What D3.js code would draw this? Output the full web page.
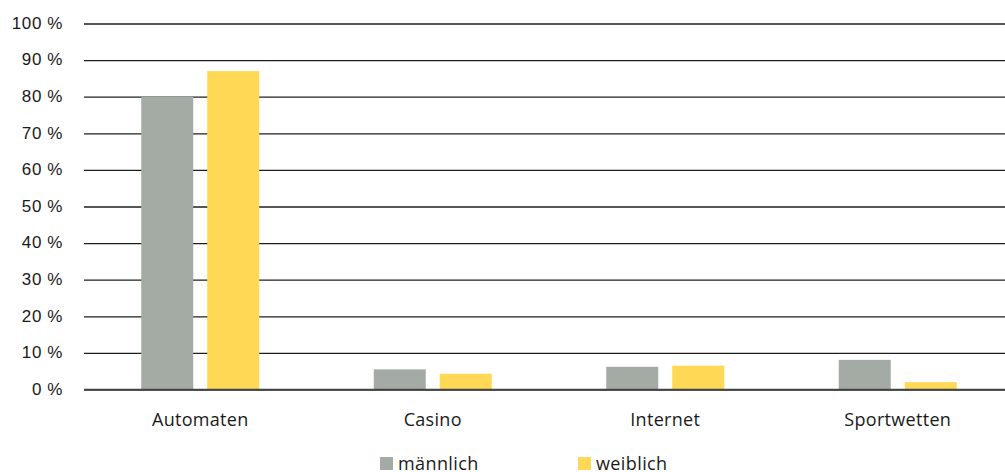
<!DOCTYPE html>
<html>
<head>
<meta charset="utf-8">
<script src="https://cdn.jsdelivr.net/npm/d3@7"></script>
<style>
  html, body { margin: 0; padding: 0; background: #fff; }
  svg { display: block; font-family: "Open Sans", sans-serif; }
  .tick text, .cat text, .legend text { fill: #1a1a1a; }
</style>
</head>
<body>
<svg id="chart" width="1005" height="472"></svg>
<script>
// Gambling form by gender (share in percent)
const categories = ["Automaten", "Casino", "Internet", "Sportwetten"];
const series = ["männlich", "weiblich"];
const maleValues = [80, 5.5, 6.2, 8.1];
const femaleValues = [87, 4.3, 6.5, 2.0];
const yTicks = [0, 10, 20, 30, 40, 50, 60, 70, 80, 90, 100];
const colors = ["#a4aba5", "#ffd856"];

const svg = d3.select("#chart");
const margin = { left: 84, right: -9, top: 23.5, bottom: 82.5 };
const W = 1005, H = 472;

const x = d3.scaleBand()
  .domain(categories)
  .range([margin.left, W - margin.right])
  .paddingInner(0).paddingOuter(0);

const y = d3.scaleLinear()
  .domain([0, 100])
  .range([H - margin.bottom, margin.top]);

const barW = 52, barGap = 14;
const xSub = d3.scaleOrdinal().domain(series)
  .range([-(barW + barGap / 2), barGap / 2]);

// gridlines + tick labels
const yAxis = d3.axisLeft(y)
  .tickValues(yTicks)
  .tickSize(-(W - margin.left))
  .tickPadding(21)
  .tickFormat(d => d + " %");

const gAxis = svg.append("g")
  .attr("transform", `translate(${margin.left},0)`)
  .call(yAxis);
gAxis.select(".domain").remove();
gAxis.selectAll(".tick line").attr("stroke", "#1e1e1e").attr("stroke-width", 1.3);
gAxis.selectAll(".tick text")
  .attr("font-size", 17)
  .attr("letter-spacing", "0.6px")
  .attr("dy", "0.28em");

// bars
const rows = categories.map((c, i) => ({ cat: c, vals: [maleValues[i], femaleValues[i]] }));
const groups = svg.append("g").selectAll("g")
  .data(rows).join("g")
  .attr("transform", d => `translate(${x(d.cat) + x.bandwidth() / 2},0)`);

groups.selectAll("rect")
  .data(d => d.vals.map((v, j) => ({ s: series[j], v, j })))
  .join("rect")
  .attr("x", d => xSub(d.s))
  .attr("width", barW)
  .attr("y", d => y(d.v))
  .attr("height", d => y(0) - y(d.v))
  .attr("fill", d => colors[d.j]);

// redraw baseline on top of bars
svg.append("line")
  .attr("x1", margin.left).attr("x2", W)
  .attr("y1", y(0)).attr("y2", y(0))
  .attr("stroke", "#444").attr("stroke-width", 1.6);

// category labels
svg.append("g").attr("class", "cat")
  .selectAll("text").data(categories).join("text")
  .attr("x", d => x(d) + x.bandwidth() / 2)
  .attr("y", y(0) + 36)
  .attr("text-anchor", "middle")
  .attr("font-size", 18)
  .attr("letter-spacing", "0.3px")
  .text(d => d);

// legend
const legendX = [380, 578];
const lg = svg.append("g").attr("class", "legend")
  .selectAll("g").data(series).join("g")
  .attr("transform", (d, i) => `translate(${legendX[i]},457)`);
lg.append("rect").attr("width", 13).attr("height", 13)
  .attr("fill", (d, i) => colors[i]);
lg.append("text").attr("x", 18).attr("y", 13)
  .attr("font-size", 18).attr("letter-spacing", "0.4px")
  .text(d => d);
</script>
</body>
</html>
